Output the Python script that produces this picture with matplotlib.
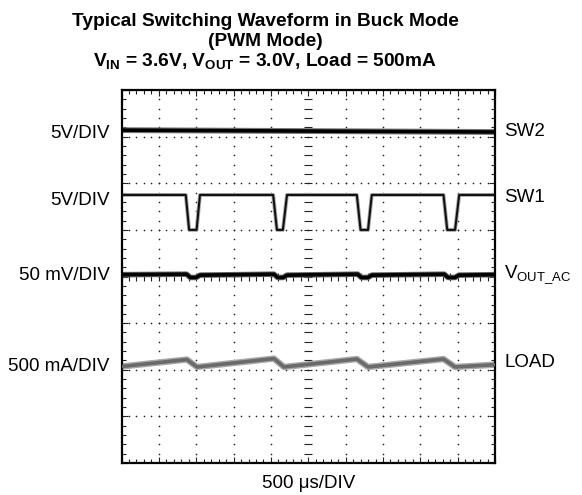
import numpy as np
import matplotlib.pyplot as plt

plt.rcParams['font.family'] = ['Liberation Sans', 'DejaVu Sans']
plt.rcParams['mathtext.fontset'] = 'custom'
plt.rcParams['mathtext.rm'] = 'Liberation Sans'

# scope traces, in screen divisions (10 x 8 grid)
sw2_t = [0, 10]
sw2_v = [7.14, 7.10]

sw1_t = [0, 1.72, 1.81, 2.01, 2.10, 4.06, 4.16, 4.32, 4.43,
         6.30, 6.40, 6.60, 6.70, 8.62, 8.72, 8.93, 9.04, 10]
sw1_v = [5.75, 5.75, 5.0, 5.0, 5.75, 5.75, 5.0, 5.0, 5.75,
         5.75, 5.0, 5.0, 5.75, 5.75, 5.0, 5.0, 5.75, 5.75]

vout_t = [0, 1.74, 1.84, 2.00, 2.10, 4.08, 4.18, 4.33, 4.43,
          6.32, 6.42, 6.60, 6.70, 8.64, 8.74, 8.93, 9.03, 10]
vout_v = [4.04, 4.05, 3.98, 3.98, 4.03, 4.05, 3.98, 3.98, 4.03,
          4.05, 3.98, 3.98, 4.03, 4.05, 3.98, 3.98, 4.03, 4.04]

load_t = [0, 1.75, 2.02, 4.08, 4.35, 6.30, 6.60, 8.62, 8.93, 10]
load_v = [2.07, 2.22, 2.06, 2.24, 2.06, 2.23, 2.06, 2.23, 2.06, 2.11]

left_labels = ['5V/DIV', '5V/DIV', '50 mV/DIV', '500 mA/DIV']
left_y = [7.07, 5.64, 4.03, 2.07]
right_labels = ['SW2', 'SW1', r'V$_\mathregular{OUT\_AC}$', 'LOAD']
right_y = [7.12, 5.70, 4.03, 2.15]

fig = plt.figure(figsize=(5.82, 4.95), dpi=100)
ax = fig.add_axes([0.2088, 0.0646, 0.6418, 0.7535])
ax.set_xlim(0, 10)
ax.set_ylim(0, 8)

# dotted graticule
minor_x = np.arange(0, 10.01, 0.2)
minor_y = np.arange(0, 8.01, 0.2)
for gx in range(1, 10):
    if gx != 5:
        ax.scatter(np.full(len(minor_y), gx), minor_y, s=1.4, c='#222', lw=0, zorder=1)
for gy in range(1, 8):
    if gy != 4:
        ax.scatter(minor_x, np.full(len(minor_x), gy), s=1.4, c='#222', lw=0, zorder=1)

# centre cross with tick marks
ax.plot(np.full(len(minor_y), 5), minor_y, ls='none', marker='_', ms=6, mew=0.8, color='#222', zorder=1)
ax.plot(minor_x, np.full(len(minor_x), 4), ls='none', marker='|', ms=6, mew=0.8, color='#222', zorder=1)

# traces
ax.plot(sw2_t, sw2_v, color='#777', lw=4.2, solid_capstyle='butt', zorder=2)
ax.plot(sw2_t, sw2_v, color='black', lw=2.6, solid_capstyle='butt', zorder=3)

ax.plot(sw1_t, sw1_v, color='#aaa', lw=2.8, zorder=2)
ax.plot(sw1_t, sw1_v, color='#111', lw=1.5, zorder=3)

ax.plot(vout_t, vout_v, color='#666', lw=4.0, solid_capstyle='butt', zorder=2)
ax.plot(vout_t, vout_v, color='black', lw=2.6, solid_capstyle='butt', zorder=3)

ax.plot(load_t, load_v, color='#aaa', lw=4.6, solid_capstyle='butt', zorder=2)
ax.plot(load_t, load_v, color='#6a6a6a', lw=2.6, solid_capstyle='butt', zorder=3)

# frame and edge ticks
for s in ax.spines.values():
    s.set_linewidth(1.6)
ax.set_xticks(np.arange(0, 10.01, 1))
ax.set_yticks(np.arange(0, 8.01, 1))
ax.set_xticks(minor_x, minor=True)
ax.set_yticks(minor_y, minor=True)
ax.tick_params(which='both', direction='in', top=True, right=True,
               labelbottom=False, labelleft=False, width=0.8, color='#222')
ax.tick_params(which='major', length=4)
ax.tick_params(which='minor', length=3)

for lab, y in zip(left_labels, left_y):
    ax.text(-0.32, y, lab, ha='right', va='center', fontsize=13.5)
for lab, y in zip(right_labels, right_y):
    ax.text(10.25, y, lab, ha='left', va='center', fontsize=13.5)

ax.text(5, -0.25, '500 μs/DIV', ha='center', va='top', fontsize=13.5)

fig.text(265 / 582, 1 - 22 / 495, 'Typical Switching Waveform in Buck Mode',
         ha='center', va='center', fontsize=13.8, fontweight='bold')
fig.text(265 / 582, 1 - 41 / 495, '(PWM Mode)',
         ha='center', va='center', fontsize=13.8, fontweight='bold')
fig.text(265 / 582, 1 - 62 / 495,
         r'V$_\mathregular{IN}$ = 3.6V, V$_\mathregular{OUT}$ = 3.0V, Load = 500mA',
         ha='center', va='center', fontsize=13.8, fontweight='bold')

fig.savefig('out.png', dpi=100)
